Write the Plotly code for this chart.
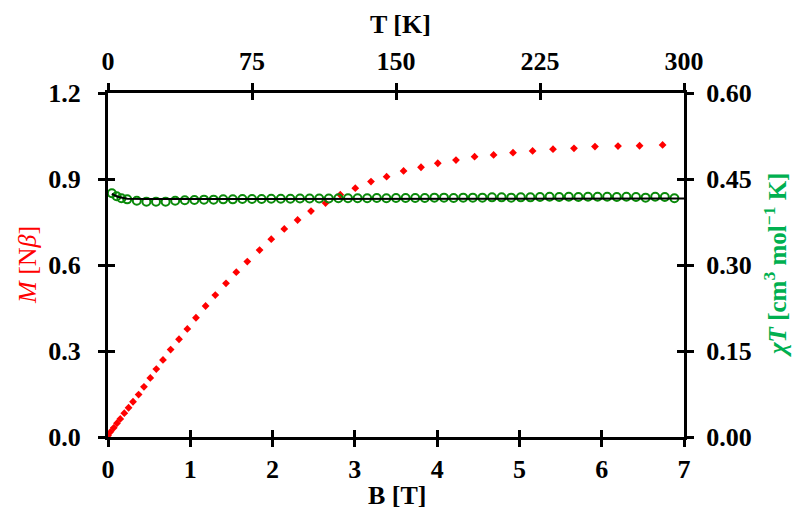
import plotly.graph_objects as go

# Magnetisation M vs field B (red diamonds)
B_field = [0.0, 0.03, 0.07, 0.109, 0.149, 0.198, 0.25, 0.304, 0.372, 0.437, 0.514, 0.587,
           0.668, 0.761, 0.863, 0.964, 1.069, 1.186, 1.304, 1.434, 1.559, 1.693, 1.842,
           1.984, 2.142, 2.304, 2.467, 2.644, 2.823, 3.005, 3.196, 3.386, 3.592, 3.804,
           4.008, 4.229, 4.455, 4.686, 4.922, 5.16, 5.408, 5.663, 5.918, 6.198, 6.46, 6.74]
M_vals = [0.005, 0.018, 0.032, 0.048, 0.063, 0.083, 0.102, 0.123, 0.148, 0.175, 0.206, 0.237,
          0.269, 0.305, 0.341, 0.377, 0.416, 0.457, 0.495, 0.536, 0.575, 0.612, 0.652,
          0.690, 0.726, 0.757, 0.788, 0.816, 0.845, 0.868, 0.891, 0.908, 0.928, 0.941,
          0.955, 0.966, 0.978, 0.984, 0.992, 0.998, 1.004, 1.007, 1.013, 1.015, 1.016, 1.019]

# chiT vs T (green open circles)
T_vals = [2, 4.5, 7, 10, 15, 20, 25, 30, 35, 40, 45, 50, 55, 60, 65, 70, 75, 80, 85, 90,
          95, 100, 105, 110, 115, 120, 125, 130, 135, 140, 145, 150, 155, 160, 165, 170,
          175, 180, 185, 190, 195, 200, 205, 210, 215, 220, 225, 230, 235, 240, 245, 250,
          255, 260, 265, 270, 275, 280, 285, 290, 295]
chiT_vals = [0.425, 0.420, 0.4165, 0.4145, 0.412, 0.4105, 0.4105, 0.4105, 0.412, 0.413,
             0.4135, 0.414, 0.414, 0.4145, 0.4145, 0.415, 0.415, 0.415, 0.4155, 0.4155,
             0.4155, 0.416, 0.416, 0.416, 0.416, 0.4165, 0.4165, 0.4165, 0.4165, 0.417,
             0.4165, 0.417, 0.417, 0.417, 0.417, 0.4175, 0.4175, 0.417, 0.4175, 0.4175,
             0.4175, 0.418, 0.418, 0.4175, 0.418, 0.418, 0.4185, 0.419, 0.4185, 0.419,
             0.4185, 0.419, 0.419, 0.419, 0.4185, 0.419, 0.4185, 0.4175, 0.419, 0.4185,
             0.4165]

# fit line for chiT
T_fit = [2, 5, 10, 20, 50, 100, 150, 200, 250, 300]
chiT_fit = [0.424, 0.419, 0.4155, 0.415, 0.4152, 0.4155, 0.4157, 0.4158, 0.4159, 0.416]

B_ticks = [0, 1, 2, 3, 4, 5, 6, 7]
M_ticks = [0.0, 0.3, 0.6, 0.9, 1.2]
T_ticks = [0, 75, 150, 225, 300]
chiT_ticks = [0.0, 0.15, 0.30, 0.45, 0.60]

FONT = "Liberation Serif"
FS = 26

fig = go.Figure()
fig.add_trace(go.Scatter(x=T_vals, y=chiT_vals, xaxis="x2", yaxis="y2", mode="markers",
                         marker=dict(symbol="circle-open", size=8, color="#0a8a0a",
                                     line=dict(width=2, color="#0a8a0a")),
                         showlegend=False))
fig.add_trace(go.Scatter(x=T_fit, y=chiT_fit, xaxis="x2", yaxis="y2", mode="lines",
                         line=dict(color="black", width=2), showlegend=False))
fig.add_trace(go.Scatter(x=B_field, y=M_vals, mode="markers",
                         marker=dict(symbol="diamond", size=6, color="#ff0000"),
                         showlegend=False))
# helper empty traces for inner tick halves
fig.add_trace(go.Scatter(x=[], y=[], xaxis="x3", yaxis="y3", showlegend=False))
fig.add_trace(go.Scatter(x=[], y=[], xaxis="x4", yaxis="y4", showlegend=False))

tickfont = dict(family=FONT, size=FS, color="black", weight="bold")
common = dict(showgrid=False, zeroline=False, linecolor="black", linewidth=3,
              ticks="outside", ticklen=7, tickwidth=3, tickcolor="black",
              tickfont=tickfont, showline=True)
inner = dict(showgrid=False, zeroline=False, showline=False, ticks="inside", ticklen=7,
             tickwidth=3, tickcolor="black", showticklabels=False)

# the page body adds an 8px offset, so margins are shifted accordingly
fig.update_layout(
    width=802, height=509,
    margin=dict(l=100, r=126, t=85, b=80),
    plot_bgcolor="white", paper_bgcolor="white",
    xaxis=dict(range=[0, 7], tickvals=B_ticks, ticklabelstandoff=0, **common),
    yaxis=dict(range=[0, 1.2], tickvals=M_ticks, tickformat=".1f", ticklabelstandoff=12, **common),
    xaxis2=dict(range=[0, 300], tickvals=T_ticks, overlaying="x", side="top", anchor="y2",
                ticklabelstandoff=3, **common),
    yaxis2=dict(range=[0, 0.6], tickvals=chiT_ticks, tickformat=".2f", overlaying="y",
                side="right", anchor="x2", ticklabelstandoff=7, **common),
    xaxis3=dict(range=[0, 7], tickvals=B_ticks, overlaying="x", side="bottom", anchor="y3", **inner),
    yaxis3=dict(range=[0, 1.2], tickvals=M_ticks, overlaying="y", side="left", anchor="x3", **inner),
    xaxis4=dict(range=[0, 300], tickvals=T_ticks, overlaying="x", side="top", anchor="y4", **inner),
    yaxis4=dict(range=[0, 0.6], tickvals=chiT_ticks, overlaying="y", side="right", anchor="x4", **inner),
    annotations=[
        dict(text="<b>T [K]</b>", xref="paper", yref="paper", x=0.507, y=1.198,
             xanchor="center", yanchor="middle",
             showarrow=False, font=dict(family=FONT, size=FS, color="black")),
        dict(text="<b>B [T]</b>", xref="paper", yref="paper", x=0.503, y=-0.1715,
             xanchor="center", yanchor="middle",
             showarrow=False, font=dict(family=FONT, size=FS, color="black")),
        dict(text="<i>M</i> [N<i>β</i>]", xref="paper", yref="paper", x=-0.1406, y=0.5,
             xanchor="center", yanchor="middle",
             textangle=-90, showarrow=False, font=dict(family=FONT, size=FS, color="#ff0000")),
        dict(text="<b><i>χT</i> [cm<sup>3</sup> mol<sup>−1</sup> K]</b>", xref="paper",
             yref="paper", x=1.158, y=0.5, textangle=-90, showarrow=False,
             xanchor="center", yanchor="middle",
             font=dict(family=FONT, size=25, color="#00b050")),
    ],
)

fig.write_html("out.html")
